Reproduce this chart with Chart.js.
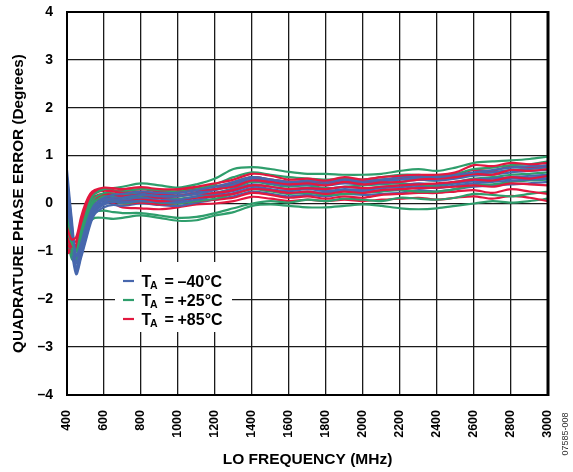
<!DOCTYPE html>
<html><head><meta charset="utf-8">
<script src="https://cdn.jsdelivr.net/npm/chart.js@4/dist/chart.umd.min.js"></script>
<style>html,body{margin:0;padding:0;background:#fff;overflow:hidden}canvas{display:block}</style>
</head><body><canvas id="c" width="573" height="472"></canvas>
<script>
const FREQ = [400,425,450,475,500,525,550,600,650,700,800,900,1000,1100,1200,1300,1400,1500,1600,1700,1800,1900,2000,2100,2200,2300,2400,2500,2600,2700,2800,2900,3000];

const R1 = [-0.50,-0.75,-0.70,-0.30,0.00,0.20,0.28, 0.33,0.32,0.30, 0.34,0.30,0.30,0.35,0.42,0.50,0.62,0.58,0.50,0.52,0.48,0.55,0.50,0.55,0.58,0.60,0.60,0.65,0.80,0.78,0.85,0.82,0.85];
const R2 = [-0.70,-0.90,-0.85,-0.45,-0.10,0.12,0.22, 0.27,0.25,0.22, 0.25,0.20,0.22,0.28,0.30,0.35,0.48,0.45,0.40,0.42,0.38,0.45,0.40,0.44,0.45,0.50,0.52,0.55,0.62,0.60,0.70,0.68,0.72];
const R3 = [-0.85,-0.95,-0.90,-0.55,-0.20,0.05,0.15, 0.20,0.18,0.15, 0.18,0.12,0.15,0.20,0.22,0.28,0.38,0.35,0.30,0.32,0.30,0.35,0.32,0.35,0.38,0.40,0.42,0.45,0.50,0.48,0.55,0.52,0.58];
const R4 = [-0.95,-1.00,-0.90,-0.60,-0.25,0.00,0.10, 0.15,0.12,0.08, 0.10,0.05,0.08,0.12,0.15,0.20,0.30,0.28,0.22,0.25,0.20,0.25,0.22,0.28,0.30,0.32,0.33,0.35,0.38,0.35,0.42,0.40,0.38];
const R5 = [-1.00,-1.02,-0.95,-0.65,-0.30,-0.05,0.05, 0.10,0.05,0.00, 0.02,-0.02,0.00,0.05,0.08,0.12,0.22,0.18,0.12,0.15,0.10,0.15,0.12,0.18,0.20,0.22,0.22,0.25,0.28,0.22,0.30,0.25,0.20];
const R6 = [-1.05,-0.98,-0.88,-0.60,-0.30,-0.08,0.00, 0.07,0.00,-0.08, -0.10,-0.12,-0.08,-0.02,0.00,0.05,0.14,0.10,0.05,0.08,0.05,0.08,0.05,0.08,0.10,0.12,0.08,0.12,0.15,0.10,0.16,0.12,0.05];
const R7 = [-0.60,-0.82,-0.78,-0.38,-0.05,0.16,0.25, 0.30,0.28,0.26, 0.30,0.25,0.26,0.32,0.36,0.42,0.55,0.50,0.45,0.47,0.43,0.50,0.45,0.50,0.52,0.55,0.56,0.60,0.70,0.68,0.78,0.75,0.78];

const G1 = [-0.30,-0.80,-1.00,-0.60,-0.25,0.05,0.20, 0.30,0.32,0.35, 0.42,0.38,0.33,0.40,0.52,0.72,0.76,0.72,0.66,0.62,0.62,0.60,0.60,0.62,0.68,0.72,0.68,0.75,0.85,0.88,0.90,0.93,0.98];
const G2 = [-0.40,-0.90,-1.10,-0.70,-0.35,-0.05,0.12, 0.22,0.25,0.25, 0.30,0.28,0.25,0.30,0.40,0.55,0.65,0.60,0.55,0.52,0.50,0.52,0.50,0.55,0.60,0.60,0.58,0.62,0.72,0.75,0.80,0.82,0.88];
const G3 = [-0.50,-1.00,-1.15,-0.80,-0.45,-0.12,0.05, 0.15,0.15,0.12, 0.15,0.12,0.10,0.15,0.22,0.32,0.45,0.40,0.35,0.38,0.32,0.35,0.38,0.40,0.42,0.40,0.38,0.45,0.52,0.55,0.60,0.62,0.65];
const G4 = [-0.55,-1.05,-1.20,-0.85,-0.50,-0.20,-0.02, 0.08,0.05,0.00, 0.05,0.02,0.00,0.05,0.10,0.20,0.30,0.25,0.20,0.22,0.18,0.20,0.22,0.25,0.28,0.25,0.25,0.30,0.38,0.40,0.45,0.48,0.50];
const G5 = [-0.65,-1.10,-1.25,-0.90,-0.55,-0.30,-0.18, -0.15,-0.18,-0.20, -0.20,-0.25,-0.30,-0.28,-0.20,-0.10,0.00,0.05,0.02,0.08,0.05,0.10,0.08,0.05,0.12,0.10,0.08,0.12,0.20,0.18,0.15,0.20,0.25];
const G6 = [-0.70,-1.15,-1.22,-0.95,-0.60,-0.38,-0.30, -0.30,-0.32,-0.30, -0.25,-0.30,-0.36,-0.35,-0.25,-0.18,-0.05,-0.02,-0.05,-0.08,-0.08,-0.05,-0.02,-0.05,-0.10,-0.12,-0.10,-0.05,0.00,0.05,0.02,0.05,0.10];
const G7 = [-0.45,-0.95,-1.12,-0.75,-0.40,-0.08,0.08, 0.18,0.20,0.18, 0.22,0.20,0.17,0.22,0.30,0.45,0.55,0.50,0.45,0.45,0.42,0.44,0.44,0.48,0.52,0.50,0.48,0.55,0.62,0.65,0.70,0.72,0.76];

const B1 = [0.70,-0.30,-1.10,-0.85,-0.50,-0.20,-0.02, 0.12,0.18,0.20, 0.25,0.22,0.22,0.28,0.35,0.45,0.55,0.50,0.45,0.48,0.45,0.50,0.48,0.50,0.55,0.58,0.55,0.60,0.65,0.70,0.75,0.78,0.80];
const B2 = [0.40,-0.50,-1.25,-0.95,-0.60,-0.28,-0.08, 0.08,0.12,0.12, 0.18,0.15,0.15,0.20,0.28,0.38,0.48,0.42,0.38,0.40,0.38,0.42,0.40,0.42,0.45,0.50,0.48,0.52,0.58,0.60,0.65,0.68,0.70];
const B3 = [0.10,-0.70,-1.35,-1.05,-0.70,-0.35,-0.12, 0.03,0.08,0.08, 0.12,0.10,0.08,0.15,0.22,0.30,0.40,0.35,0.30,0.33,0.30,0.35,0.32,0.35,0.38,0.42,0.40,0.45,0.50,0.52,0.55,0.58,0.60];
const B4 = [-0.20,-0.85,-1.42,-1.10,-0.75,-0.40,-0.18, -0.02,0.03,0.02, 0.05,0.03,0.02,0.08,0.15,0.22,0.32,0.28,0.22,0.25,0.22,0.28,0.25,0.28,0.30,0.35,0.32,0.38,0.42,0.45,0.48,0.50,0.52];
const B5 = [-0.50,-1.00,-1.48,-1.15,-0.80,-0.45,-0.22, -0.08,-0.03,-0.05, 0.00,-0.03,-0.05,0.02,0.08,0.15,0.25,0.20,0.15,0.18,0.15,0.20,0.18,0.20,0.22,0.28,0.25,0.30,0.35,0.38,0.40,0.42,0.45];
const B6 = [0.55,-0.40,-1.20,-0.90,-0.55,-0.25,-0.05, 0.10,0.15,0.14, 0.20,0.18,0.17,0.24,0.30,0.40,0.52,0.46,0.42,0.44,0.40,0.46,0.44,0.46,0.50,0.54,0.52,0.56,0.62,0.65,0.70,0.72,0.76];
const B7 = [-0.05,-0.78,-1.40,-1.08,-0.72,-0.38,-0.15, 0.00,0.05,0.05, 0.08,0.06,0.05,0.12,0.18,0.26,0.36,0.30,0.26,0.30,0.26,0.30,0.28,0.32,0.34,0.38,0.36,0.42,0.46,0.48,0.52,0.54,0.56];

const SERIES_RED = [R1,R2,R3,R4,R5,R6,R7];
const SERIES_BLUE = [B1,B2,B3,B4,B5,B6,B7];
const SERIES_GREEN = [G1,G2,G3,G4,G5,G6,G7];
const LEGEND_LABELS = ['–40°C','+25°C','+85°C'];
const X_TICKS = [400,600,800,1000,1200,1400,1600,1800,2000,2200,2400,2600,2800,3000];
const Y_TICKS = [-4,-3,-2,-1,0,1,2,3,4];

const BLUE = '#4767ad', GREEN = '#2f9e6c', RED = '#e2183f';
const FONT = 'Arial, "Liberation Sans", sans-serif';

function mk(arr, color, name) {
  return {
    label: name,
    data: arr.map((v, i) => ({x: FREQ[i], y: v})),
    borderColor: color, backgroundColor: color,
    borderWidth: 2.2, pointRadius: 0, tension: 0.3, fill: false
  };
}
// interleave so that the three temperatures overlap each other
const datasets = [];
for (let i = 0; i < 7; i++) {
  datasets.push(mk(SERIES_RED[i], RED, 'R' + i));
  datasets.push(mk(SERIES_BLUE[i], BLUE, 'B' + i));
  datasets.push(mk(SERIES_GREEN[i], GREEN, 'G' + i));
}

const decor = {
  id: 'decor',
  beforeDatasetsDraw(chart) {
    const c = chart.ctx;
    c.save();
    c.fillStyle = '#fff';
    c.fillRect(115, 262, 117, 70);
    c.restore();
  },
  afterDatasetsDraw(chart) {
    const c = chart.ctx, a = chart.chartArea;
    c.save();
    c.strokeStyle = '#000';
    c.lineWidth = 2;
    c.strokeRect(a.left, a.top, a.right - a.left, a.bottom - a.top);
    c.lineWidth = 3;
    c.beginPath(); c.moveTo(a.right, a.top - 1); c.lineTo(a.right, a.bottom + 1); c.stroke();
    const cols = [BLUE, GREEN, RED];
    const ys = [281, 300, 319];
    for (let i = 0; i < 3; i++) {
      const y = ys[i];
      c.strokeStyle = cols[i]; c.lineWidth = 2.2;
      c.beginPath(); c.moveTo(123, y); c.lineTo(134, y); c.stroke();
      c.fillStyle = '#000';
      c.textBaseline = 'alphabetic'; c.textAlign = 'left';
      c.font = 'bold 16px ' + FONT;
      c.fillText('T', 141.5, y + 5.7);
      c.font = 'bold 10.5px ' + FONT;
      c.fillText('A', 150, y + 8.2);
      c.font = 'bold 16px ' + FONT;
      c.fillText('=', 164.5, y + 5.7);
      c.fillText(LEGEND_LABELS[i], 177.5, y + 5.7);
    }
    c.restore();
  },
  afterDraw(chart) {
    const c = chart.ctx;
    c.save();
    c.translate(566, 434);
    c.rotate(-Math.PI / 2);
    c.font = '9px ' + FONT;
    c.fillStyle = '#333';
    c.textAlign = 'center'; c.textBaseline = 'middle';
    c.fillText('07585-008', 0, 0);
    c.restore();
  }
};

new Chart(document.getElementById('c'), {
  type: 'line',
  data: {datasets},
  plugins: [decor],
  options: {
    responsive: false, animation: false,
    layout: {padding: {top: 12, right: 25, left: 0, bottom: 0}},
    plugins: {legend: {display: false}, tooltip: {enabled: false}},
    scales: {
      x: {
        type: 'linear', min: 400, max: 3000,
        afterBuildTicks: s => { s.ticks = X_TICKS.map(v => ({value: v})); },
        afterFit: s => { s.height = 77; },
        ticks: {autoSkip: false, maxRotation: 90, minRotation: 90, padding: 0, color: '#000',
                font: {family: FONT, size: 12.5, weight: 'bold'},
                callback: v => String(v)},
        grid: {color: '#1a1a1a', lineWidth: 1.3, drawTicks: true, tickLength: 15, tickColor: 'rgba(0,0,0,0)'},
        border: {display: false},
        title: {display: true, text: 'LO FREQUENCY (MHz)', color: '#000',
                font: {family: FONT, size: 15.5, weight: 'bold'}, padding: {top: 0, bottom: 3}}
      },
      y: {
        min: -4, max: 4,
        afterBuildTicks: s => { s.ticks = Y_TICKS.map(v => ({value: v})); },
        afterFit: s => { s.width = 67; },
        ticks: {padding: 0, color: '#000', font: {family: FONT, size: 14, weight: 'bold'},
                callback: v => v < 0 ? '–' + Math.abs(v) : String(v)},
        grid: {color: '#1a1a1a', lineWidth: 1.3, drawTicks: true, tickLength: 14, tickColor: 'rgba(0,0,0,0)'},
        border: {display: false},
        title: {display: true, text: 'QUADRATURE PHASE ERROR (Degrees)', color: '#000',
                font: {family: FONT, size: 15.3, weight: 'bold'}, padding: {top: 10, bottom: 0}}
      }
    }
  }
});
</script>
</body></html>
